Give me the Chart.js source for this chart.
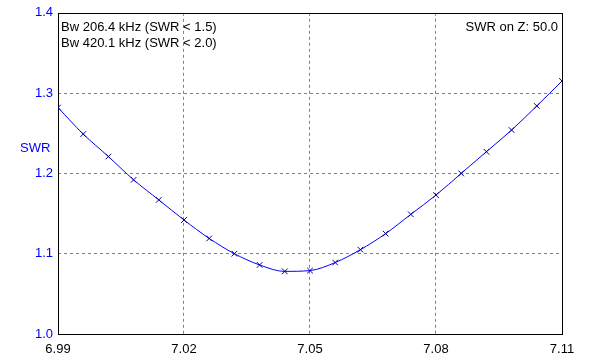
<!DOCTYPE html>
<html>
<head>
<meta charset="utf-8">
<script src="https://cdn.jsdelivr.net/npm/chart.js@4/dist/chart.umd.min.js"></script>
<style>
  body { margin: 0; background: #fff; }
  canvas { display: block; }
</style>
</head>
<body>
<canvas id="swrChart" width="612" height="363"></canvas>
<script>
// Datos: frecuencia (MHz) y SWR
const freqs = [6.990, 6.996, 7.002, 7.008, 7.014, 7.020, 7.026, 7.032, 7.038, 7.044, 7.050,
               7.056, 7.062, 7.068, 7.074, 7.080, 7.086, 7.092, 7.098, 7.104, 7.110];
const swr = [1.282, 1.249, 1.221, 1.192, 1.167, 1.142, 1.119, 1.100, 1.086, 1.078, 1.079,
             1.089, 1.105, 1.125, 1.149, 1.173, 1.200, 1.227, 1.254, 1.284, 1.315];
const xTicks = [6.99, 7.02, 7.05, 7.08, 7.11];
const yTicks = [1.0, 1.1, 1.2, 1.3, 1.4];
const infoLeft = ['Bw 206.4 kHz (SWR < 1.5)', 'Bw 420.1 kHz (SWR < 2.0)'];
const infoRight = 'SWR on Z: 50.0';
const yTitle = 'SWR';

const FAMILY = '"Liberation Sans", Arial, sans-serif';
const FONT = '13px ' + FAMILY;

// Texto extra y marco negro del área del gráfico
const decorPlugin = {
    id: 'decor',
    beforeDatasetsDraw(chart) {
        const { ctx, chartArea: a } = chart;
        ctx.save();
        ctx.strokeStyle = '#000';
        ctx.lineWidth = 1;
        ctx.strokeRect(Math.round(a.left) + 0.5, Math.round(a.top) + 0.5,
                       Math.round(a.right - a.left), Math.round(a.bottom - a.top));
        ctx.restore();
    },
    afterDraw(chart) {
        const { ctx, chartArea: a } = chart;
        ctx.save();
        ctx.font = FONT;
        ctx.textBaseline = 'alphabetic';
        ctx.fillStyle = '#000';
        ctx.textAlign = 'left';
        infoLeft.forEach((t, i) => ctx.fillText(t, a.left + 3, 31 + i * 16));
        ctx.textAlign = 'right';
        ctx.fillText(infoRight, a.right - 4, 31);
        ctx.fillStyle = '#0000ff';
        ctx.textAlign = 'left';
        ctx.fillText(yTitle, 20, 152);
        ctx.restore();
    }
};

const edgeColor = (ticks) => (c) =>
    (c.index === 0 || c.index === ticks.length - 1) ? 'rgba(0,0,0,0)' : '#808080';

new Chart(document.getElementById('swrChart'), {
    type: 'line',
    data: {
        datasets: [{
            data: freqs.map((f, i) => ({ x: f, y: swr[i] })),
            borderColor: '#0000ff',
            borderWidth: 1,
            cubicInterpolationMode: 'monotone',
            pointStyle: 'crossRot',
            pointRadius: 4,
            pointBorderColor: '#00008b',
            pointBorderWidth: 1,
            fill: false
        }]
    },
    options: {
        responsive: false,
        animation: false,
        layout: { padding: { top: 10, right: 50, left: 0, bottom: 0 } },
        plugins: { legend: { display: false }, tooltip: { enabled: false } },
        scales: {
            x: {
                type: 'linear',
                min: 6.99,
                max: 7.11,
                afterBuildTicks: (s) => { s.ticks = xTicks.map(v => ({ value: v })); },
                afterFit: (s) => { s.height = 29; },
                grid: { color: edgeColor(xTicks), drawTicks: false, lineWidth: 1 },
                border: { display: false, dash: [3, 3] },
                ticks: {
                    color: '#000',
                    font: { family: FAMILY, size: 13 },
                    padding: 8,
                    maxRotation: 0,
                    callback: (v) => Number(v).toFixed(2)
                }
            },
            y: {
                min: 1.0,
                max: 1.4,
                afterBuildTicks: (s) => { s.ticks = yTicks.map(v => ({ value: v })); },
                afterFit: (s) => { s.width = 58; },
                grid: { color: edgeColor(yTicks), drawTicks: false, lineWidth: 1 },
                border: { display: false, dash: [3, 3] },
                ticks: {
                    color: '#0000ff',
                    font: { family: FAMILY, size: 13 },
                    padding: 5,
                    callback: (v) => Number(v).toFixed(1)
                }
            }
        }
    },
    plugins: [decorPlugin]
});
</script>
</body>
</html>
